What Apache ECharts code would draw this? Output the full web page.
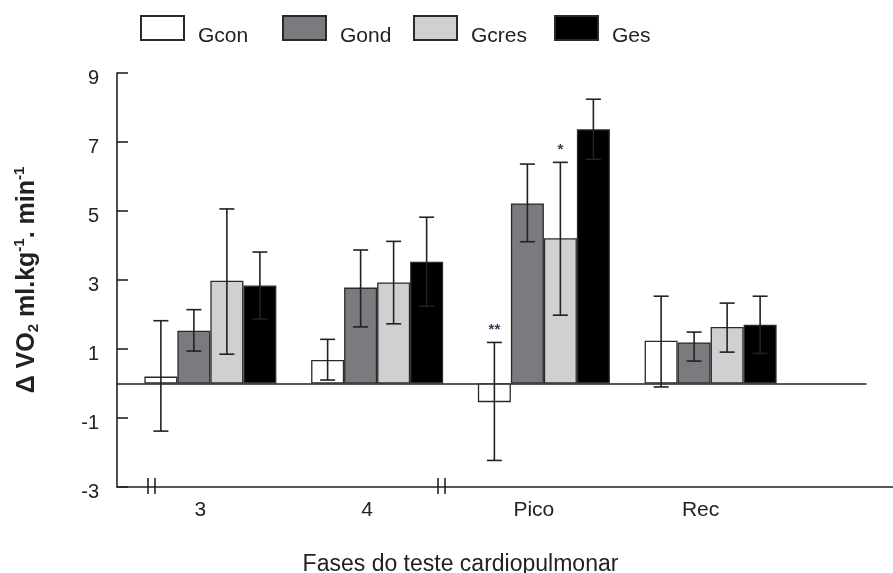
<!DOCTYPE html>
<html>
<head>
<meta charset="utf-8">
<script src="https://cdn.jsdelivr.net/npm/echarts@6/dist/echarts.min.js"></script>
<style>
html,body{margin:0;padding:0;background:#fff;}
#chart{width:893px;height:573px;}
</style>
</head>
<body>
<div id="chart"></div>
<script>
// ---- data ----
const categories = ['3', '4', 'Pico', 'Rec'];
const seriesNames = ['Gcon', 'Gond', 'Gcres', 'Ges'];

const gcon      = [0.20, 0.68, -0.54, 1.24];
const gconLow   = [-1.38, 0.10, -2.23, -0.10];
const gconHigh  = [1.82, 1.28, 1.19, 2.53];

const gond      = [1.53, 2.78, 5.22, 1.19];
const gondLow   = [0.94, 1.64, 4.11, 0.65];
const gondHigh  = [2.14, 3.87, 6.36, 1.49];

const gcres     = [2.98, 2.93, 4.21, 1.64];
const gcresLow  = [0.85, 1.73, 1.98, 0.91];
const gcresHigh = [5.06, 4.12, 6.41, 2.33];

const ges       = [2.84, 3.53, 7.37, 1.70];
const gesLow    = [1.87, 2.24, 6.50, 0.87];
const gesHigh   = [3.81, 4.82, 8.24, 2.53];

const gconSig   = ['', '', '**', ''];
const gondSig   = ['', '', '', ''];
const gcresSig  = ['', '', '*', ''];
const gesSig    = ['', '', '', ''];

const yMin = -3, yMax = 9, yStep = 2;
const xAxisName = 'Fases do teste cardiopulmonar';

// ---- chart ----
const values = [gcon, gond, gcres, ges];
const lows = [gconLow, gondLow, gcresLow, gesLow];
const highs = [gconHigh, gondHigh, gcresHigh, gesHigh];
const sigs = [gconSig, gondSig, gcresSig, gesSig];
const colors = ['#ffffff', '#7b7b7f', '#d0d0d2', '#000000'];
const BAR_W = 33;
const INK = '#222';
const FONT = "'Liberation Sans', Arial, sans-serif";
const NARROW = "'Liberation Sans Narrow', 'Arial Narrow', 'Liberation Sans', sans-serif";

const chart = echarts.init(document.getElementById('chart'), null, {renderer: 'canvas'});

const barSeries = seriesNames.map((name, k) => ({
  name: name,
  type: 'bar',
  xAxisIndex: 2, yAxisIndex: 2,
  barWidth: BAR_W,
  barGap: '0%',
  data: values[k],
  itemStyle: {color: colors[k], borderColor: '#2a2a2a', borderWidth: 1.3},
  emphasis: {disabled: true},
  z: 2
}));

const errSeries = seriesNames.map((name, k) => ({
  type: 'custom',
  name: name + ' err',
  xAxisIndex: 2, yAxisIndex: 2,
  data: categories.map((c, i) => [i, lows[k][i], highs[k][i]]),
  encode: {x: 0, y: [1, 2]},
  z: 5,
  silent: true,
  renderItem: function (params, api) {
    const i = api.value(0);
    const off = (k - 1.5) * BAR_W;
    const x = api.coord([i, 0])[0] + off;
    const yl = api.coord([i, api.value(1)])[1];
    const yh = api.coord([i, api.value(2)])[1];
    const cap = 7.5;
    const st = {stroke: INK, lineWidth: 1.6};
    const children = [
      {type: 'line', shape: {x1: x, y1: yl, x2: x, y2: yh}, style: st},
      {type: 'line', shape: {x1: x - cap, y1: yh, x2: x + cap, y2: yh}, style: st},
      {type: 'line', shape: {x1: x - cap, y1: yl, x2: x + cap, y2: yl}, style: st}
    ];
    const s = sigs[k][params.dataIndex];
    if (s) {
      children.push({type: 'text', style: {text: s, x: x, y: yh - 5, align: 'center', verticalAlign: 'bottom',
        fontSize: 15, fontWeight: 'bold', fill: '#3a3a5a', fontFamily: FONT}});
    }
    return {type: 'group', children: children};
  }
}));

const legends = seriesNames.map((name, k) => ({
  data: [name],
  left: [140, 282, 413, 554][k],
  top: 15,
  padding: 0,
  itemWidth: 43,
  itemHeight: 24,
  selectedMode: false,
  icon: 'rect',
  formatter: n => '{t|' + n + '}',
  textStyle: {
    padding: [0, 0, 0, 9],
    rich: {t: {fontSize: 21, color: INK, fontFamily: NARROW, padding: [17, 0, 0, 0]}}
  }
}));

const noBounds = {outerBoundsMode: 'none', containLabel: false};

const option = {
  backgroundColor: '#fff',
  animation: false,
  legend: legends,
  grid: [
    Object.assign({left: 117, right: 0, top: 73, bottom: 86}, noBounds),
    Object.assign({left: 117, right: 27, top: 73, bottom: 86}, noBounds),
    Object.assign({left: 127, width: 667, top: 73, bottom: 86}, noBounds)
  ],
  xAxis: [
    {type: 'value', gridIndex: 0, min: 0, max: 1,
     axisLine: {show: true, onZero: false, lineStyle: {color: INK, width: 1.6}},
     axisTick: {show: false}, axisLabel: {show: false}, splitLine: {show: false}},
    {type: 'value', gridIndex: 1, min: 0, max: 1,
     axisLine: {show: true, onZero: true, lineStyle: {color: INK, width: 1.6}},
     axisTick: {show: false}, axisLabel: {show: false}, splitLine: {show: false}},
    {type: 'category', gridIndex: 2, data: categories,
     axisLine: {show: false, onZero: false}, axisTick: {show: false},
     axisLabel: {fontSize: 21, color: INK, fontFamily: FONT, margin: 13, padding: [0, 20, 0, 0]},
     name: xAxisName, nameLocation: 'middle', nameGap: 66,
     nameTextStyle: {fontSize: 23, color: INK, fontFamily: FONT}}
  ],
  yAxis: [
    {type: 'value', gridIndex: 0, min: yMin, max: yMax, interval: yStep,
     axisLine: {show: true, lineStyle: {color: INK, width: 1.6}},
     axisTick: {show: true, inside: true, length: 11, lineStyle: {color: INK, width: 1.6}},
     axisLabel: {
       margin: 18,
       formatter: v => '{v|' + v + '}',
       rich: {v: {fontSize: 20, color: INK, fontFamily: FONT, padding: [11, 0, 0, 0]}}
     },
     splitLine: {show: false},
     name: '{d|Δ VO}{sub|2}{d| ml.kg}{sup|-1}{d|. min}{sup|-1}',
     nameLocation: 'middle', nameGap: 73, nameRotate: 90,
     nameTextStyle: {
       rich: {
         d: {fontSize: 25, fontWeight: 'bold', color: INK, fontFamily: FONT, lineHeight: 34},
         sub: {fontSize: 15, fontWeight: 'bold', color: INK, fontFamily: FONT, padding: [14, 0, 0, 0]},
         sup: {fontSize: 15, fontWeight: 'bold', color: INK, fontFamily: FONT, padding: [0, 0, 14, 0]}
       }
     }},
    {type: 'value', gridIndex: 1, min: yMin, max: yMax, interval: yStep, show: false},
    {type: 'value', gridIndex: 2, min: yMin, max: yMax, interval: yStep, show: false}
  ],
  graphic: [
    {type: 'line', shape: {x1: 148, y1: 478, x2: 148, y2: 494}, style: {stroke: INK, lineWidth: 1.6}},
    {type: 'line', shape: {x1: 155, y1: 478, x2: 155, y2: 494}, style: {stroke: INK, lineWidth: 1.6}},
    {type: 'line', shape: {x1: 438, y1: 478, x2: 438, y2: 494}, style: {stroke: INK, lineWidth: 1.6}},
    {type: 'line', shape: {x1: 445, y1: 478, x2: 445, y2: 494}, style: {stroke: INK, lineWidth: 1.6}}
  ],
  series: barSeries.concat(errSeries)
};
chart.setOption(option);
</script>
</body>
</html>
